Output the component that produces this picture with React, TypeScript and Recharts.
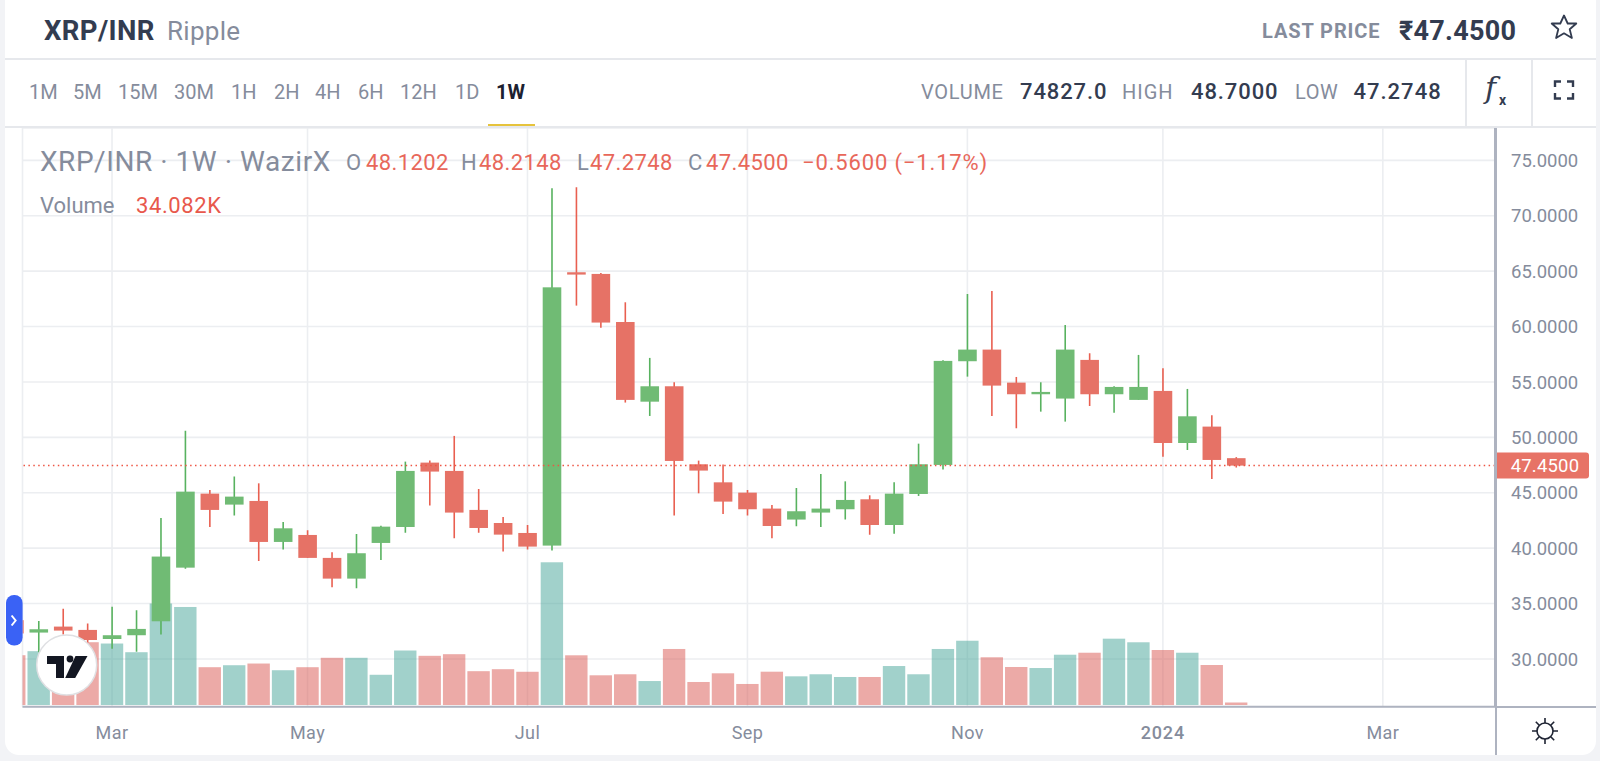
import { Bar, CartesianGrid, ComposedChart, ReferenceLine, XAxis, YAxis } from 'recharts';
import type { CSSProperties, ReactNode } from 'react';

// weekly candles, first one sits just off the left edge
const opens = [33.5, 32.38, 32.92, 32.62, 31.8, 32.14, 33.4, 38.24, 44.92, 43.93, 44.26, 40.56, 41.19, 39.12, 37.25, 40.47, 41.91, 47.72, 46.97, 43.45, 42.27, 41.37, 40.23, 64.9, 64.75, 60.41, 53.22, 54.61, 47.57, 45.94, 45.01, 43.57, 42.58, 43.21, 43.51, 44.41, 42.09, 44.89, 47.51, 56.87, 57.92, 54.94, 53.89, 53.5, 56.99, 53.89, 53.38, 54.19, 49.49, 50.97, 48.1202];
const closes = [32.3, 32.68, 32.56, 31.71, 32.14, 32.71, 39.24, 45.1, 43.45, 44.65, 40.56, 41.79, 39.12, 37.25, 39.54, 41.94, 46.97, 46.91, 43.21, 41.82, 41.22, 40.14, 63.54, 64.69, 60.36, 53.38, 54.61, 47.87, 47.0, 44.2, 43.51, 42.0, 43.33, 43.57, 44.35, 42.09, 44.92, 47.57, 56.9, 57.92, 54.67, 53.89, 54.1, 57.92, 53.89, 54.55, 54.55, 49.49, 51.9, 47.96, 47.45];
const highs = [34.0, 33.43, 34.54, 33.19, 34.72, 34.39, 42.73, 50.6, 45.25, 46.46, 45.85, 42.36, 41.61, 39.63, 41.28, 42.03, 47.81, 47.9, 50.13, 45.34, 42.82, 42.09, 72.48, 72.57, 64.84, 62.19, 57.17, 54.97, 47.9, 47.54, 45.25, 43.9, 45.43, 46.7, 46.03, 44.77, 45.94, 49.43, 56.95, 62.94, 63.21, 55.45, 54.97, 60.14, 57.59, 54.61, 57.44, 56.23, 54.37, 51.99, 48.2148];
const lows = [31.8, 30.6, 32.2, 31.47, 30.93, 30.66, 32.2, 38.15, 41.9, 42.94, 38.84, 39.87, 39.12, 36.47, 36.38, 38.93, 41.4, 43.84, 40.89, 41.4, 39.69, 39.87, 39.78, 61.89, 59.9, 53.14, 51.93, 42.94, 44.95, 43.09, 42.94, 40.89, 41.97, 41.91, 42.58, 41.22, 41.31, 44.71, 47.09, 55.48, 51.93, 50.82, 52.32, 51.42, 52.83, 52.23, 53.38, 48.26, 48.86, 46.25, 47.2748];
// volume in thousands
const volumes = [677, 732, 830, 854, 836, 718, 1380, 1333, 514, 541, 564, 473, 514, 642, 642, 411, 741, 669, 691, 460, 487, 452, 1941, 676, 404, 418, 326, 762, 313, 431, 286, 453, 390, 418, 381, 381, 530, 418, 762, 874, 649, 517, 503, 684, 711, 902, 853, 748, 711, 544, 34.082];

const priceTicks = [30, 35, 40, 45, 50, 55, 60, 65, 70, 75];
const monthWeeks = [3, 11, 20, 29, 38, 46, 55];
const monthLabels = ['Mar', 'May', 'Jul', 'Sep', 'Nov', '2024', 'Mar'];
const lastPrice = 47.45;
const intervals = [
  ['1M', 29], ['5M', 73], ['15M', 118], ['30M', 174], ['1H', 231], ['2H', 274],
  ['4H', 315], ['6H', 358], ['12H', 400], ['1D', 455], ['1W', 496],
] as const;

const rows = opens.map((open, i) => ({
  week: i - 1,
  open,
  close: closes[i],
  high: highs[i],
  low: lows[i],
  volume: volumes[i],
}));

const FONT = 'Roboto, sans-serif';
const INK = '#333c50';
const GREY = '#858c9c';
const RED = '#e8675a';
const weekDomain = [-0.663, 59.59];

function Candle(props: any) {
  const { x, y, width, height, payload } = props;
  const up = payload.close >= payload.open;
  const perUnit = height / (payload.high - payload.low);
  const top = y + (payload.high - Math.max(payload.open, payload.close)) * perUnit;
  const bodyH = Math.max(Math.abs(payload.close - payload.open) * perUnit, 2);
  const mid = x + width / 2;
  return (
    <g>
      <line x1={mid} x2={mid} y1={y} y2={y + height} stroke={up ? '#58b25f' : '#e95f50'} strokeWidth={1.6} />
      <rect x={x} y={top} width={width} height={bodyH} fill={up ? '#70bb74' : '#e67266'} />
    </g>
  );
}

function VolumeBar(props: any) {
  const { x, y, width, height, payload } = props;
  const up = payload.close >= payload.open;
  return <rect x={x} y={y} width={width} height={height} fill={up ? 'rgba(68,163,151,0.5)' : 'rgba(217,85,79,0.5)'} />;
}

function MonthTick(props: any) {
  const { x, y, payload } = props;
  const label = monthLabels[monthWeeks.indexOf(payload.value)];
  const isYear = label === '2024';
  return (
    <text x={x} y={y + 24} textAnchor="middle" fontFamily={FONT} fontSize={18} fontWeight={isYear ? 500 : 400} letterSpacing={isYear ? 0.8 : 0.4} fill={GREY}>
      {label}
    </text>
  );
}

function PriceTag(props: any) {
  const { viewBox } = props;
  const left = viewBox.x + viewBox.width;
  const mid = viewBox.y;
  return (
    <g>
      <path d={`M${left} ${mid - 13}h91a3 3 0 0 1 3 3v20a3 3 0 0 1 -3 3h-91z`} fill="#e77366" />
      <text x={left + 50} y={mid + 6.5} textAnchor="middle" fontFamily={FONT} fontSize={18.5} letterSpacing={0.2} fill="#fff">
        {lastPrice.toFixed(4)}
      </text>
    </g>
  );
}

function Label({ x, y, size, color = GREY, weight = 400, spacing = 0, children }: { x: number; y: number; size: number; color?: string; weight?: number; spacing?: number; children: ReactNode }) {
  const style: CSSProperties = {
    position: 'absolute',
    left: x,
    top: y,
    transform: 'translateY(-50%)',
    fontFamily: FONT,
    fontSize: size,
    fontWeight: weight,
    color,
    letterSpacing: spacing,
    lineHeight: 1,
    whiteSpace: 'nowrap',
  };
  return <span style={style}>{children}</span>;
}

function Rule({ x, y, w, h, color = '#e6e8ec' }: { x: number; y: number; w: number; h: number; color?: string }) {
  return <div style={{ position: 'absolute', left: x, top: y, width: w, height: h, background: color }} />;
}

function Icons() {
  return (
    <svg width={1600} height={761} style={{ position: 'absolute', left: 0, top: 0, pointerEvents: 'none' }}>
      {/* star */}
      <path d="M1564 15.5l3.7 8h8.6l-6.6 5.8 2.2 8.7-7.900-4.700-7.900 4.700 2.200-8.700-6.600-5.800h8.600z" fill="none" stroke={INK} strokeWidth={1.8} strokeLinejoin="round" />
      {/* fullscreen */}
      <path d="M1555 87v-5.500h6M1573 87v-5.500h-6M1555 93v5.500h6M1573 93v5.500h-6" fill="none" stroke={INK} strokeWidth={2.4} />
      {/* side tab */}
      <rect x={6} y={595} width={16.6} height={50.6} rx={8} fill="#3a62f5" />
      <path d="M11.600 615.500l4 5-4 5" fill="none" stroke="#fff" strokeWidth={2} />
      {/* logo badge */}
      <circle cx={66.7} cy={665} r={30} fill="#fff" stroke="#dfe0e3" strokeWidth={1.5} />
      <path d="M47 656h17v22h-8v-14h-9zM75.500 656h12l-12.300 22h-10z" fill="#131722" />
      <circle cx={70} cy={659} r={3.4} fill="#131722" />
      {/* theme toggle */}
      <circle cx={1545} cy={731} r={8} fill="none" stroke="#1f2433" strokeWidth={1.6} />
      <path d="M1545 718v5M1545 739v5M1532 731h5M1553 731h5M1535.800 721.800l3.200 3.200M1551 737l3.200 3.200M1535.800 740.200l3.200-3.200M1551 725l3.200-3.200" stroke="#1f2433" strokeWidth={1.6} />
    </svg>
  );
}

export default function App() {
  return (
    <div style={{ position: 'absolute', left: 0, top: 0, width: 1600, height: 761, background: '#f2f3f6', overflow: 'hidden' }}>
      <div style={{ position: 'absolute', left: 5, top: -14, width: 1591, height: 769, background: '#fff', borderRadius: 14 }} />

      <ComposedChart
        width={1600}
        height={761}
        data={rows}
        margin={{ top: 128, right: 4, bottom: 6.3, left: 22.5 }}
        style={{ position: 'absolute', left: 0, top: 0 }}
      >
        <CartesianGrid xAxisId="price" yAxisId="price" stroke="#eceef1" strokeWidth={1.6} />
        <XAxis
          xAxisId="price"
          type="number"
          dataKey="week"
          domain={weekDomain}
          allowDataOverflow
          ticks={monthWeeks}
          interval={0}
          height={48}
          tick={<MonthTick />}
          tickLine={false}
          axisLine={{ stroke: '#aeb3c0', strokeWidth: 2 }}
        />
        <XAxis xAxisId="vol" type="number" dataKey="week" domain={weekDomain} allowDataOverflow hide />
        <YAxis
          yAxisId="price"
          orientation="right"
          width={101}
          domain={[25.69, 77.92]}
          allowDataOverflow
          ticks={priceTicks}
          interval={0}
          tickFormatter={(v: number) => v.toFixed(4)}
          tick={{ fill: GREY, fontSize: 18.5, fontFamily: FONT }}
          tickSize={0}
          tickMargin={16}
          tickLine={false}
          axisLine={{ stroke: '#aeb3c0', strokeWidth: 2 }}
        />
        <YAxis yAxisId="vol" hide domain={[-23, 7847]} allowDataOverflow />
        <Bar xAxisId="vol" yAxisId="vol" dataKey="volume" barSize={22.4} shape={<VolumeBar />} isAnimationActive={false} />
        <Bar
          xAxisId="price"
          yAxisId="price"
          dataKey={(d: any) => [d.low, d.high]}
          barSize={18.6}
          shape={<Candle />}
          isAnimationActive={false}
        />
        <ReferenceLine
          xAxisId="price"
          yAxisId="price"
          y={lastPrice}
          stroke="#ee5544"
          strokeWidth={1.5}
          strokeDasharray="1.5 3.4"
          label={<PriceTag />}
        />
      </ComposedChart>

      {/* header */}
      <Rule x={5} y={58} w={1591} h={2} />
      <Rule x={5} y={126} w={1591} h={2} />
      <Rule x={1465} y={59} w={1.5} h={68} />
      <Rule x={1531} y={59} w={1.5} h={68} />
      <Rule x={1495} y={128} w={2} h={627} color="#aeb3c0" />
      <Rule x={1495} y={706} w={101} h={2} color="#aeb3c0" />
      <Rule x={488} y={124} w={47} h={2.4} color="#e6c33c" />

      <Label x={44} y={30.5} size={27.5} weight={700} color={INK} spacing={0.4}>XRP/INR</Label>
      <Label x={167} y={30.5} size={26} color={GREY} spacing={0.3}>Ripple</Label>
      <Label x={1262} y={30.5} size={20} weight={700} color={GREY} spacing={0.9}>LAST PRICE</Label>
      <Label x={1399} y={30.5} size={27} weight={700} color={INK} spacing={0.3}>₹47.4500</Label>

      {intervals.map(([name, x]) => (
        <Label key={name} x={x} y={92} size={20} color={name === '1W' ? '#1c2130' : GREY} weight={name === '1W' ? 700 : 400}>
          {name}
        </Label>
      ))}
      <Label x={921} y={92} size={20} spacing={0.7}>VOLUME</Label>
      <Label x={1020} y={92} size={22} weight={500} color={INK} spacing={0.9}>74827.0</Label>
      <Label x={1122} y={92} size={20} spacing={1}>HIGH</Label>
      <Label x={1191} y={92} size={22} weight={500} color={INK} spacing={0.9}>48.7000</Label>
      <Label x={1295} y={92} size={20} spacing={0.6}>LOW</Label>
      <Label x={1353.5} y={92} size={22} weight={500} color={INK} spacing={1}>47.2748</Label>
      <span style={{ position: 'absolute', left: 1485, top: 70, fontFamily: 'DejaVu Serif', fontStyle: 'italic', fontSize: 30, lineHeight: 1.2, color: INK }}>f</span>
      <span style={{ position: 'absolute', left: 1499, top: 93, fontFamily: FONT, fontWeight: 700, fontSize: 14, lineHeight: 1, color: INK }}>x</span>

      {/* legend over the plot */}
      <Label x={40} y={162} size={28} spacing={0.55}>XRP/INR · 1W · WazirX</Label>
      <Label x={346} y={163} size={22}>O</Label>
      <Label x={366} y={163} size={22} color={RED} spacing={0.4}>48.1202</Label>
      <Label x={461} y={163} size={22}>H</Label>
      <Label x={479} y={163} size={22} color={RED} spacing={0.4}>48.2148</Label>
      <Label x={577} y={163} size={22}>L</Label>
      <Label x={590} y={163} size={22} color={RED} spacing={0.4}>47.2748</Label>
      <Label x={688} y={163} size={22}>C</Label>
      <Label x={706} y={163} size={22} color={RED} spacing={0.4}>47.4500</Label>
      <Label x={802} y={163} size={22} color={RED} spacing={0.85}>−0.5600 (−1.17%)</Label>
      <Label x={40} y={205.5} size={22}>Volume</Label>
      <Label x={136} y={205.5} size={22} color="#e8584c" spacing={0.6}>34.082K</Label>

      <Icons />
    </div>
  );
}
